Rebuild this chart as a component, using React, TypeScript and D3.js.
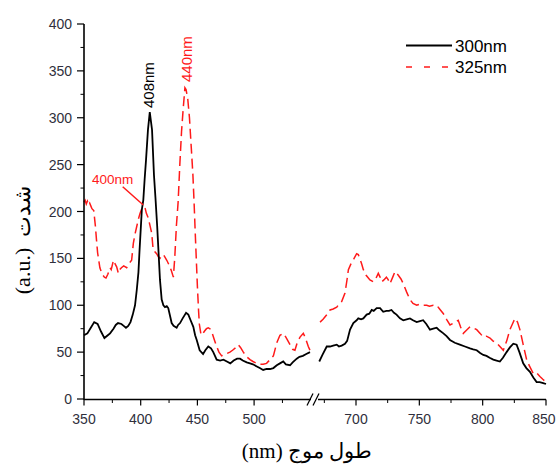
import React from "react";
import * as d3 from "d3";

const black300Left: [number, number][] = [
  [350, 68], [353, 70], [356, 76], [359, 82], [362, 80], [365, 72], [368, 65], [371, 68], [373, 70], [376, 75],
  [378, 79], [380, 81], [383, 80], [385, 78], [387, 76], [389, 78], [391, 82], [393, 90], [395, 100], [396.5, 116],
  [398, 135], [399, 159], [401, 202], [402.3, 212], [403.5, 235], [404.7, 255], [406.4, 287], [408, 306], [410, 287],
  [411.7, 239], [413, 215], [414.5, 185], [415.5, 162], [417, 127], [418.5, 106], [420, 100], [421.4, 98], [423, 99],
  [424.3, 97], [426, 88], [427.3, 81], [429, 78], [431.7, 76], [433, 79], [434.7, 81], [437, 86], [440, 92], [442, 90],
  [444, 84], [446.4, 77], [448, 68], [449.4, 63], [452, 52], [455, 48], [457, 52], [459.6, 56], [462, 54], [464, 50],
  [467, 42], [470, 41], [473, 42], [476, 40], [479, 38], [482, 41], [485, 43], [487.6, 43], [490, 41], [493.5, 39],
  [496.4, 38], [499, 37], [502, 35], [505, 33], [508, 31], [511, 32], [514, 32], [517, 33], [520, 36], [522.8, 38],
  [525.7, 40], [528, 37], [531.7, 36], [534, 39], [537.6, 43], [540, 45], [543, 46], [546, 48], [549.3, 50],
];

const black300Right: [number, number][] = [
  [671, 40], [673.5, 47], [676.9, 56], [679.5, 56], [682, 57], [684.8, 58], [686.5, 56], [688.7, 57], [691.3, 59],
  [693, 62], [695.3, 74], [697.9, 81], [700.5, 84], [701.8, 86], [704, 85], [705.8, 86], [708.4, 90], [710.5, 91],
  [712.4, 95], [714, 94], [716.3, 97], [719, 97], [721.5, 93], [724, 94], [726, 94], [728, 95], [730, 92], [732, 90],
  [734.7, 86], [737.3, 84], [740, 85], [742.6, 86], [745, 84], [747.9, 82], [750.5, 83], [753, 84], [755.5, 80],
  [758.4, 74], [761, 75], [763.7, 76], [766, 73], [769, 70], [771.5, 67], [774.2, 63], [778, 60], [782, 58], [786, 56],
  [790, 54], [792.5, 53], [795.3, 52], [798, 49], [800.5, 47], [803, 46], [805.5, 44], [808.4, 42], [811, 41],
  [813.6, 40], [816, 44], [818.9, 50], [821.5, 55], [824.2, 59], [826.8, 58], [829, 50], [832, 38], [834.5, 33],
  [837.3, 29], [840, 23], [842.6, 18], [845, 18], [847.8, 17], [850, 16],
];

const red325Left: [number, number][] = [
  [350, 210], [351, 212], [352, 208], [353, 211], [354, 207], [355, 209], [356, 206], [357, 203], [358.6, 201],
  [360, 185], [361, 170], [362, 156], [364, 140], [366, 133], [368, 130], [369.4, 129], [371, 133], [373, 140],
  [374, 138], [376, 148], [377, 145], [378.8, 141], [380.3, 134], [381.5, 138], [383, 140], [385, 142], [387.6, 140],
  [390, 145], [392, 148], [393.5, 166], [395, 176], [396.5, 184], [398, 192], [399.4, 198], [401, 203], [402.3, 205],
  [404, 203], [405, 198], [406.7, 193], [408, 186], [409.7, 177], [411, 159], [412.5, 157], [414, 155], [415.5, 152],
  [417, 150], [418.5, 153], [420, 154], [421.5, 151], [423, 148], [425, 143], [427, 137], [428.8, 130], [430, 150],
  [431.5, 185], [433, 210], [434.5, 250], [436, 285], [437.5, 310], [439, 332], [440, 330], [441.5, 320], [443, 300],
  [444.5, 270], [446, 240], [447, 212], [448, 180], [449, 150], [450, 120], [451, 95], [451.7, 80], [453, 70], [454, 68],
  [456, 72], [458, 75], [459.6, 76], [461, 75], [462.6, 72], [465, 63], [467, 56], [469, 50], [471.4, 46], [473, 47],
  [475, 48], [478.7, 50], [481, 52], [484, 55], [486, 58], [488, 55], [490.5, 50], [493.5, 45], [496.4, 42], [499, 40],
  [502.3, 38], [505, 37], [508, 37], [511, 38], [514, 42], [517, 46], [520, 60], [522.8, 68], [525.7, 70], [528, 66],
  [531.7, 58], [534, 53], [536, 52], [538, 60], [540.5, 66], [543.4, 70], [545, 66], [547.8, 56], [549.3, 52],
];

const red325Right: [number, number][] = [
  [671.6, 82], [674, 85], [677, 90], [679.5, 95], [682, 96], [684.8, 98], [686.5, 101], [688.7, 104], [691.3, 113],
  [693, 128], [694, 138], [696.6, 146], [698.5, 150], [700.5, 155], [701.8, 154], [703, 150], [704.5, 144],
  [705.8, 138], [708, 132], [711, 127], [713.6, 125], [715.5, 128], [717.6, 134], [719, 130], [720.3, 125], [722, 127],
  [724, 130], [725.5, 127], [726.8, 123], [729, 130], [730.8, 136], [733.4, 132], [735.5, 128], [737.3, 123], [740, 114],
  [742.6, 106], [745, 102], [747.9, 100], [750, 101], [752, 100], [755.8, 100], [758, 99], [761, 100], [763.7, 100],
  [766, 96], [769, 91], [771.5, 85], [774.2, 79], [777, 81], [780.7, 84], [782.5, 77], [784.7, 70], [787, 73], [790, 77],
  [792.5, 76], [795.3, 74], [798, 70], [800.5, 66], [803, 67], [805.8, 65], [808, 62], [811, 60], [813.6, 56],
  [816.3, 52], [819, 62], [821.5, 74], [823.5, 80], [825.5, 86], [827.5, 82], [829.4, 74], [832, 58], [834.7, 42],
  [837, 35], [840, 27], [842.5, 28], [845.2, 24], [847.5, 21], [850, 18],
];

const yTicks = [0, 50, 100, 150, 200, 250, 300, 350, 400];
const yMinor = [25, 75, 125, 175, 225, 275, 325, 375];
const xTicksLeft = [350, 400, 450, 500];
const xMinorLeft = [375, 425, 475, 525];
const xTicksRight = [700, 750, 800, 850];
const xMinorRight = [675, 725, 775, 825];
const legendLabels = ["300nm", "325nm"];

const TICK_COLOR = "#2f2f3c";
const SANS = "'Liberation Sans', Arial, sans-serif";
const SERIF = "'Liberation Serif', 'Times New Roman', 'DejaVu Serif', serif";

export default function App() {
  const y = d3.scaleLinear().domain([0, 400]).range([399, 24]);
  const xL = d3.scaleLinear().domain([350, 550]).range([84, 310.8]);
  const xR = d3.scaleLinear().domain([670, 850]).range([318, 546]);

  const lineL = d3.line<[number, number]>().x((d) => xL(d[0])).y((d) => y(d[1]));
  const lineR = d3.line<[number, number]>().x((d) => xR(d[0])).y((d) => y(d[1]));

  const axisY = 399.5;
  const red = "#ff1a1a";

  return (
    <svg width={556} height={468} style={{ position: "absolute", left: 0, top: 0, background: "#fff" }}>
      {/* series */}
      <path d={lineL(red325Left) || ""} fill="none" stroke={red} strokeWidth={1.5} strokeDasharray="10,5" />
      <path d={lineR(red325Right) || ""} fill="none" stroke={red} strokeWidth={1.5} strokeDasharray="10,5" />
      <path d={lineL(black300Left) || ""} fill="none" stroke="#000" strokeWidth={1.8} />
      <path d={lineR(black300Right) || ""} fill="none" stroke="#000" strokeWidth={1.8} />

      {/* y axis */}
      <line x1={84} x2={84} y1={y(400)} y2={axisY + 0.5} stroke="#000" strokeWidth={1.6} />
      {yTicks.map((t) => (
        <g key={"yt" + t}>
          <line x1={77} x2={84} y1={y(t)} y2={y(t)} stroke="#000" strokeWidth={1.2} />
          <text x={72} y={y(t)} dy="0.36em" textAnchor="end" fontFamily={SANS} fontSize={14} fill={TICK_COLOR}>
            {t}
          </text>
        </g>
      ))}
      {yMinor.map((t) => (
        <line key={"ym" + t} x1={80.5} x2={84} y1={y(t)} y2={y(t)} stroke="#000" strokeWidth={1} />
      ))}

      {/* x axis with break */}
      <line x1={84} x2={311} y1={axisY} y2={axisY} stroke="#000" strokeWidth={1.6} />
      <line x1={318} x2={546} y1={axisY} y2={axisY} stroke="#000" strokeWidth={1.6} />
      <line x1={307} x2={313} y1={axisY + 6} y2={axisY - 6} stroke="#000" strokeWidth={1.3} />
      <line x1={313} x2={319} y1={axisY + 6} y2={axisY - 6} stroke="#000" strokeWidth={1.3} />
      {xTicksLeft.map((t) => (
        <g key={"xl" + t}>
          <line x1={xL(t)} x2={xL(t)} y1={axisY} y2={axisY + 6} stroke="#000" strokeWidth={1.2} />
          <text x={xL(t)} y={423.5} textAnchor="middle" fontFamily={SANS} fontSize={14} fill={TICK_COLOR}>
            {t}
          </text>
        </g>
      ))}
      {xMinorLeft.map((t) => (
        <line key={"xlm" + t} x1={xL(t)} x2={xL(t)} y1={axisY} y2={axisY + 3.5} stroke="#000" strokeWidth={1} />
      ))}
      {xTicksRight.map((t, i) => (
        <g key={"xr" + t}>
          <line x1={xR(t)} x2={xR(t)} y1={axisY} y2={axisY + 6} stroke="#000" strokeWidth={1.2} />
          <text
            x={i === xTicksRight.length - 1 ? 555.5 : xR(t)}
            y={423.5}
            textAnchor={i === xTicksRight.length - 1 ? "end" : "middle"}
            fontFamily={SANS}
            fontSize={14}
            fill={TICK_COLOR}
          >
            {t}
          </text>
        </g>
      ))}
      {xMinorRight.map((t) => (
        <line key={"xrm" + t} x1={xR(t)} x2={xR(t)} y1={axisY} y2={axisY + 3.5} stroke="#000" strokeWidth={1} />
      ))}

      {/* axis titles */}
      <text x={307} y={458} textAnchor="middle" fontFamily={SERIF} fontSize={21} fill="#000">
        (nm) طول موج
      </text>
      <text
        transform="translate(30,240) rotate(-90)"
        textAnchor="middle"
        fontFamily={SERIF}
        fontSize={22}
        fill="#000"
      >
        {"(a.u.)\u00A0\u00A0شدت"}
      </text>

      {/* annotations */}
      <text transform={`translate(154,108) rotate(-90)`} fontFamily={SANS} fontSize={15} fill="#000">
        408nm
      </text>
      <text transform={`translate(192,82) rotate(-90)`} fontFamily={SANS} fontSize={15} fill={red}>
        440nm
      </text>
      <text x={92} y={184} fontFamily={SANS} fontSize={13.5} fill={red}>
        400nm
      </text>
      <line x1={122.7} y1={186.7} x2={143.3} y2={205} stroke={red} strokeWidth={1.5} />

      {/* legend */}
      <line x1={406} x2={452} y1={45.5} y2={45.5} stroke="#000" strokeWidth={1.8} />
      <text x={455} y={51.7} fontFamily={SANS} fontSize={17} fill="#000">
        {legendLabels[0]}
      </text>
      <line x1={406} x2={452} y1={67} y2={67} stroke={red} strokeWidth={1.5} strokeDasharray="6,12" />
      <text x={455} y={73.3} fontFamily={SANS} fontSize={17} fill="#000">
        {legendLabels[1]}
      </text>
    </svg>
  );
}
